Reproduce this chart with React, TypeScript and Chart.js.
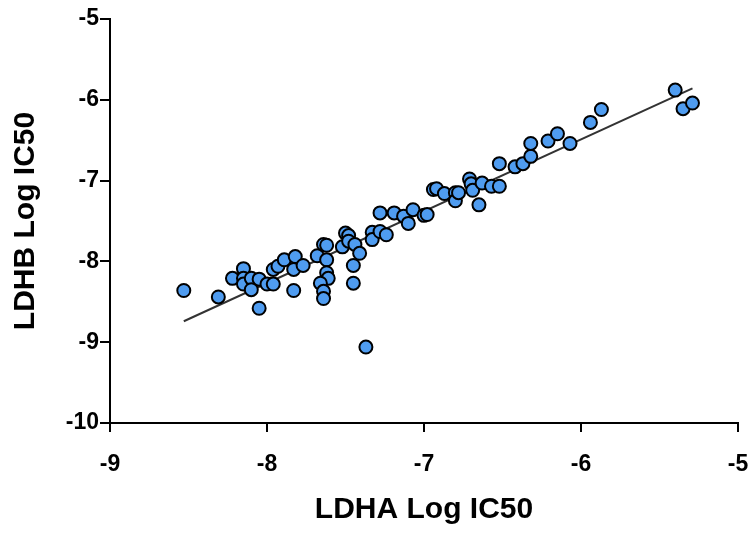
import React, { useEffect, useRef } from "react";
import { Chart, registerables } from "chart.js";

Chart.register(...registerables);

// LDHA log IC50 (x) and LDHB log IC50 (y) for each compound
const ldhaLogIC50: number[] = [
  -8.53, -8.31, -8.05, -8.22, -8.15, -8.15, -8.15, -8.10, -8.10, -8.05,
  -8.00, -7.96, -7.96, -7.93, -7.89, -7.82, -7.83, -7.83, -7.77, -7.68,
  -7.64, -7.62, -7.62, -7.62, -7.61, -7.66, -7.64, -7.64, -7.52, -7.50,
  -7.48, -7.48, -7.44, -7.41, -7.45, -7.45, -7.37, -7.33, -7.33, -7.28,
  -7.24, -7.28, -7.19, -7.13, -7.10, -7.07, -7.00, -6.98, -6.94, -6.92,
  -6.87, -6.80, -6.80, -6.78, -6.71, -6.70, -6.69, -6.63, -6.65, -6.57,
  -6.52, -6.52, -6.42, -6.37, -6.32, -6.32, -6.21, -6.15, -6.07, -5.94,
  -5.87, -5.40, -5.35, -5.29,
];
const ldhbLogIC50: number[] = [
  -8.36, -8.44, -8.58, -8.21, -8.09, -8.21, -8.28, -8.21, -8.35, -8.22,
  -8.28, -8.28, -8.10, -8.06, -7.98, -7.94, -8.10, -8.36, -8.05, -7.93,
  -7.79, -7.80, -7.98, -8.14, -8.21, -8.27, -8.37, -8.46, -7.82, -7.65,
  -7.68, -7.75, -7.79, -7.90, -8.05, -8.27, -9.06, -7.64, -7.73, -7.63,
  -7.67, -7.40, -7.40, -7.44, -7.53, -7.36, -7.43, -7.42, -7.11, -7.10,
  -7.16, -7.15, -7.25, -7.15, -6.98, -7.04, -7.12, -7.03, -7.30, -7.07,
  -7.07, -6.79, -6.83, -6.79, -6.70, -6.54, -6.51, -6.42, -6.54, -6.28,
  -6.12, -5.88, -6.11, -6.04,
];

const xTicks: number[] = [-9, -8, -7, -6, -5];
const yTicks: number[] = [-10, -9, -8, -7, -6, -5];
const xTitle = "LDHA Log IC50";
const yTitle = "LDHB Log IC50";

function linearFit(xs: number[], ys: number[]) {
  const n = xs.length;
  const mx = xs.reduce((a, b) => a + b, 0) / n;
  const my = ys.reduce((a, b) => a + b, 0) / n;
  let sxy = 0;
  let sxx = 0;
  for (let i = 0; i < n; i++) {
    sxy += (xs[i] - mx) * (ys[i] - my);
    sxx += (xs[i] - mx) * (xs[i] - mx);
  }
  const slope = sxy / sxx;
  return { slope, intercept: my - slope * mx };
}

export default function App() {
  const canvasRef = useRef<HTMLCanvasElement | null>(null);

  useEffect(() => {
    if (!canvasRef.current) return;
    const points = ldhaLogIC50.map((x, i) => ({ x, y: ldhbLogIC50[i] }));
    const fit = linearFit(ldhaLogIC50, ldhbLogIC50);
    const xMin = Math.min(...ldhaLogIC50);
    const xMax = Math.max(...ldhaLogIC50);
    const fitLine = [
      { x: xMin, y: fit.slope * xMin + fit.intercept },
      { x: xMax, y: fit.slope * xMax + fit.intercept },
    ];
    const tickFont = { family: "'Liberation Sans', Arial, sans-serif", size: 23, weight: "bold" as const };
    const titleFont = { family: "'Liberation Sans', Arial, sans-serif", size: 30, weight: "bold" as const, lineHeight: 1.2 };

    const chart = new Chart(canvasRef.current, {
      type: "scatter",
      data: {
        datasets: [
          {
            label: "compounds",
            data: points,
            backgroundColor: "#4f9cf0",
            borderColor: "#000000",
            borderWidth: 2,
            pointRadius: 6.5,
            pointHoverRadius: 6.5,
            order: 0,
          },
          {
            type: "line",
            label: "fit",
            data: fitLine,
            borderColor: "#333333",
            borderWidth: 2,
            pointRadius: 0,
            fill: false,
            showLine: true,
            order: 1,
          } as any,
        ],
      },
      options: {
        responsive: false,
        animation: false,
        events: [],
        layout: { padding: { left: 0, right: 13, top: 19, bottom: 0 } },
        plugins: { legend: { display: false }, tooltip: { enabled: false } },
        scales: {
          x: {
            type: "linear",
            min: -9,
            max: -5,
            afterBuildTicks: (s: any) => {
              s.ticks = xTicks.map((v) => ({ value: v }));
            },
            afterFit: (s: any) => {
              s.height = 110;
              s.paddingLeft = 0;
              s.paddingRight = 0;
            },
            ticks: { font: tickFont, color: "#000", padding: 19, maxRotation: 0 },
            grid: { drawOnChartArea: false, drawTicks: true, tickLength: 9, color: "#000", lineWidth: 2 },
            border: { display: true, color: "#000", width: 2 },
            title: { display: true, text: xTitle, font: titleFont, color: "#000", padding: { top: 0, bottom: 5 } },
          },
          y: {
            type: "linear",
            min: -10,
            max: -5,
            afterBuildTicks: (s: any) => {
              s.ticks = yTicks.map((v) => ({ value: v }));
            },
            afterFit: (s: any) => {
              s.width = 110;
              s.paddingTop = 0;
              s.paddingBottom = 0;
            },
            ticks: { font: tickFont, color: "#000", padding: 1 },
            grid: { drawOnChartArea: false, drawTicks: true, tickLength: 10, color: "#000", lineWidth: 2 },
            border: { display: true, color: "#000", width: 2 },
            title: { display: true, text: yTitle, font: titleFont, color: "#000", padding: { top: 8, bottom: 0 } },
          },
        },
      },
    });
    return () => chart.destroy();
  }, []);

  return (
    <div style={{ position: "fixed", left: 0, top: 0, width: 751, height: 533, background: "#fff" }}>
      <canvas ref={canvasRef} width={751} height={533} style={{ display: "block" }} />
    </div>
  );
}
